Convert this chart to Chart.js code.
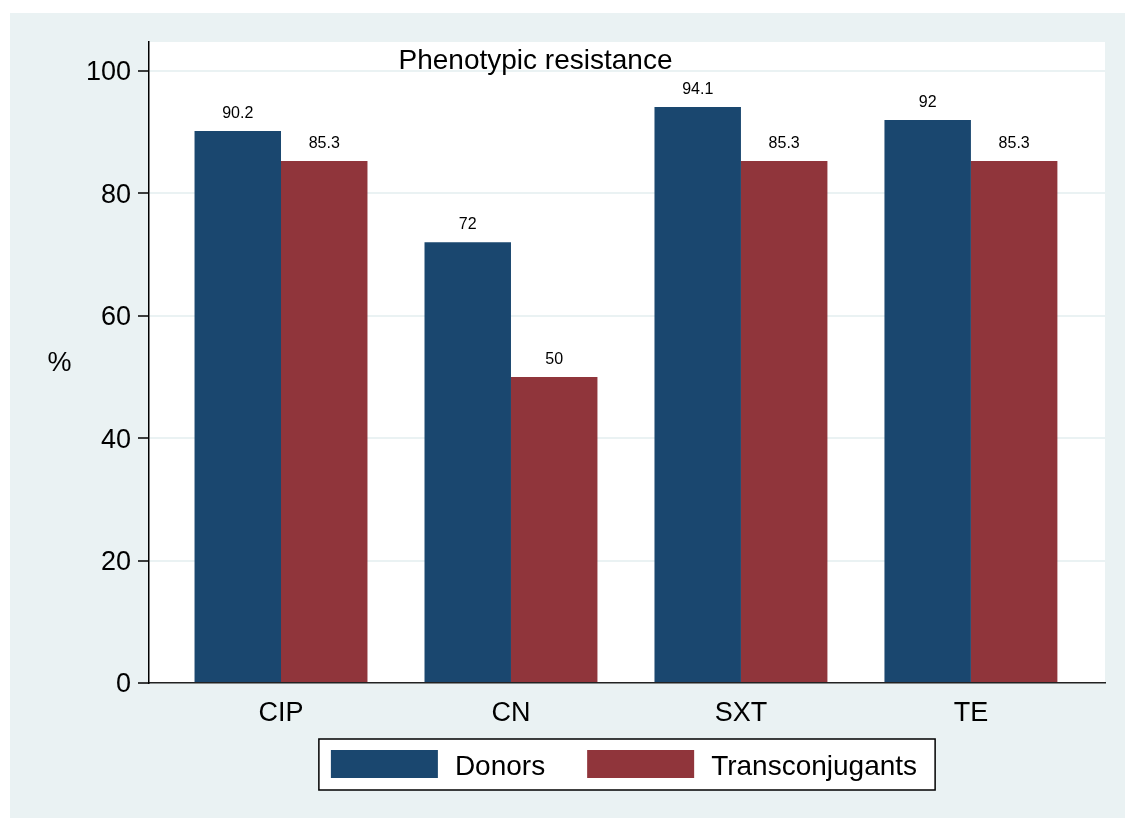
<!DOCTYPE html>
<html>
<head>
<meta charset="utf-8">
<script src="https://cdn.jsdelivr.net/npm/chart.js@4/dist/chart.umd.min.js"></script>
<style>
  html, body { margin: 0; padding: 0; background: #fff; }
  #panel {
    position: absolute; left: 10px; top: 13px;
    width: 1115px; height: 805px;
    background: #eaf2f3;
  }
  canvas { display: block; }
</style>
</head>
<body>
<div id="panel"><canvas id="chart" width="1115" height="805"></canvas></div>
<script>
// Phenotypic resistance, donors vs transconjugants (%)
const categories = ["CIP", "CN", "SXT", "TE"];
const donors = [90.2, 72, 94.1, 92];
const transconjugants = [85.3, 50, 85.3, 85.3];
const yTicks = [0, 20, 40, 60, 80, 100];

const FONT = "'Liberation Sans', Arial, sans-serif";
const NAVY = "#1a476f";
const MAROON = "#90353b";
const PANEL = "#eaf2f3";

// white plot region behind bars
const plotBackground = {
  id: "plotBackground",
  beforeDraw(chart) {
    const { ctx, chartArea: a } = chart;
    ctx.save();
    ctx.fillStyle = "#fff";
    ctx.fillRect(a.left, a.top, a.right - a.left, a.bottom - a.top);
    ctx.restore();
  },
};

// value labels above bars, title, "%" label and boxed legend
const extras = {
  id: "extras",
  afterDatasetsDraw(chart) {
    const { ctx } = chart;
    ctx.save();
    ctx.fillStyle = "#000";
    ctx.font = `16px ${FONT}`;
    ctx.textAlign = "center";
    ctx.textBaseline = "alphabetic";
    chart.data.datasets.forEach((ds, di) => {
      chart.getDatasetMeta(di).data.forEach((el, i) => {
        ctx.fillText(String(ds.data[i].y), el.x, el.y - 13);
      });
    });
    ctx.restore();
  },
  afterDraw(chart) {
    const { ctx, chartArea: a } = chart;
    ctx.save();
    ctx.fillStyle = "#000";
    ctx.textBaseline = "alphabetic";

    ctx.font = `28px ${FONT}`;
    ctx.textAlign = "center";
    ctx.fillText("Phenotypic resistance", a.left + 386.5, a.top + 27);

    ctx.font = `27px ${FONT}`;
    ctx.fillText("%", 49.5, 358);

    // legend
    const items = chart.data.datasets.map(ds => ({ label: ds.label, color: ds.backgroundColor }));
    ctx.font = `28px ${FONT}`;
    const sw = 107, sh = 28, gapText = 17, gapItem = 42, padL = 12, padR = 18;
    const widths = items.map(it => ctx.measureText(it.label).width);
    let total = padL + padR;
    items.forEach((it, i) => { total += sw + gapText + widths[i] + (i ? gapItem : 0); });
    const cx = (a.left + a.right) / 2;
    const boxL = cx - total / 2;
    const boxT = a.bottom + 56;
    const boxH = 51;
    ctx.fillStyle = "#fff";
    ctx.fillRect(boxL, boxT, total, boxH);
    ctx.strokeStyle = "#000";
    ctx.lineWidth = 1.5;
    ctx.strokeRect(boxL, boxT, total, boxH);
    let x = boxL + padL;
    ctx.textAlign = "left";
    items.forEach((it, i) => {
      if (i) x += gapItem;
      ctx.fillStyle = it.color;
      ctx.fillRect(x, boxT + 11, sw, sh);
      x += sw + gapText;
      ctx.fillStyle = "#000";
      ctx.fillText(it.label, x, boxT + 36);
      x += widths[i];
    });
    ctx.restore();
  },
};

new Chart(document.getElementById("chart"), {
  type: "bar",
  data: {
    datasets: [
      {
        label: "Donors",
        data: donors.map((v, i) => ({ x: i, y: v })),
        backgroundColor: NAVY,
      },
      {
        label: "Transconjugants",
        data: transconjugants.map((v, i) => ({ x: i, y: v })),
        backgroundColor: MAROON,
      },
    ],
  },
  options: {
    responsive: false,
    animation: false,
    events: [],
    categoryPercentage: 0.752,
    barPercentage: 1,
    layout: { padding: { top: 29, right: 20, bottom: 85, left: 0 } },
    scales: {
      x: {
        type: "linear",
        offset: false,
        min: -0.574,
        max: 3.583,
        afterBuildTicks: s => { s.ticks = categories.map((_, i) => ({ value: i })); },
        afterFit: s => { s.height = 50; },
        grid: { display: false },
        border: { display: true, color: "#222", width: 1.5 },
        ticks: {
          color: "#000",
          font: { family: FONT, size: 27 },
          padding: 6,
          autoSkip: false,
          maxRotation: 0,
          callback: v => categories[v] ?? "",
        },
      },
      y: {
        min: 0,
        max: 104.74,
        afterBuildTicks: s => { s.ticks = yTicks.map(v => ({ value: v })); },
        afterFit: s => { s.width = 139; },
        grid: {
          color: PANEL,
          lineWidth: 2,
          tickColor: "#000",
          tickWidth: 1.5,
          tickLength: 11,
        },
        border: { display: true, color: "#000", width: 1.5 },
        ticks: {
          color: "#000",
          font: { family: FONT, size: 27 },
          padding: 7,
          labelOffset: 2,
        },
      },
    },
    plugins: {
      legend: { display: false },
      tooltip: { enabled: false },
    },
  },
  plugins: [plotBackground, extras],
});
</script>
</body>
</html>
